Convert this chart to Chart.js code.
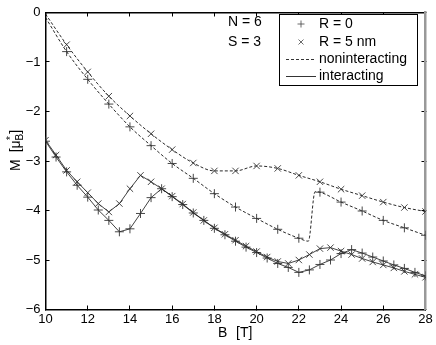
<!DOCTYPE html>
<html>
<head>
<meta charset="utf-8">
<script src="https://cdn.jsdelivr.net/npm/chart.js@4/dist/chart.umd.min.js"></script>
<style>
  body { margin: 0; background: #fff; }
  canvas { display: block; }
</style>
</head>
<body>
<canvas id="myChart" width="436" height="345"></canvas>
<script>
// magnetisation M [mu_B*] vs field B [T], N = 6, S = 3
var bNonint5 = [10, 11, 12, 13, 14, 15, 16, 17, 18, 19, 20, 21, 22, 23, 24, 25, 26, 27, 28]
var mNonint5 = [-0.03, -0.65, -1.2, -1.69, -2.09, -2.45, -2.77, -3.04, -3.2, -3.2, -3.1, -3.15, -3.29, -3.42, -3.57, -3.7, -3.83, -3.94, -4.02]

var bNonint0 = [10, 11, 12, 13, 14, 15, 16, 17, 18, 19, 20, 21, 22, 22.45, 22.77, 23, 24, 25, 26, 27, 28]
var mNonint0 = [-0.1, -0.79, -1.35, -1.85, -2.31, -2.69, -3.05, -3.35, -3.66, -3.93, -4.16, -4.38, -4.56, -4.62, -3.62, -3.63, -3.83, -4.01, -4.2, -4.35, -4.5]

var bInt = [10, 10.5, 11, 11.5, 12, 12.5, 13, 13.5, 14, 14.5, 15, 15.5, 16, 16.5, 17, 17.5, 18, 18.5, 19,
  19.5, 20, 20.5, 21, 21.5, 22, 22.5, 23, 23.5, 24, 24.5, 25, 25.5, 26, 26.5, 27, 27.5, 28]
var mInt5 = [-2.58, -2.88, -3.19, -3.42, -3.64, -3.86, -4.03, -3.86, -3.56, -3.29, -3.42, -3.56, -3.71, -3.87, -4.04, -4.2, -4.35, -4.48, -4.6,
  -4.72, -4.83, -4.94, -5.03, -5.07, -5.0, -4.89, -4.77, -4.75, -4.82, -4.89, -4.97, -5.04, -5.1, -5.16, -5.23, -5.29, -5.35]
var mInt0 = [-2.6, -2.92, -3.22, -3.49, -3.73, -3.99, -4.2, -4.43, -4.37, -4.06, -3.74, -3.56, -3.72, -3.88, -4.05, -4.2, -4.36, -4.49, -4.62,
  -4.74, -4.85, -4.96, -5.07, -5.15, -5.25, -5.2, -5.09, -5.0, -4.87, -4.79, -4.86, -4.94, -5.02, -5.1, -5.17, -5.25, -5.32]

var xTicks = [10, 12, 14, 16, 18, 20, 22, 24, 26, 28]
var yTicks = [0, -1, -2, -3, -4, -5, -6]

function pts (xs, ys) {
  return xs.map(function (x, i) { return {x: x, y: ys[i]} })
}

// dashed curves only carry a marker on whole-tesla points
function wholeMarker (ctx) {
  var x = ctx.raw && ctx.raw.x
  return (Number.isInteger(x) && x > 10) ? 4.5 : 0
}

var FONT = '"Liberation Sans", Arial, Helvetica, sans-serif'

function setTicks (list) {
  return function (s) { s.ticks = list.map(function (v) { return {value: v} }) }
}

// fixed axis box; labels may hang over the ends without moving the plot
function fixSize (w, h) {
  return function (s) {
    if (w !== null) s.width = w
    if (h !== null) s.height = h
    s.paddingTop = 0
    s.paddingBottom = 0
    s.paddingLeft = 0
    s.paddingRight = 0
  }
}

// tick marks pointing into the plot, no grid lines
var inwardGrid = {display: true, drawOnChartArea: false, drawTicks: true, tickLength: -4, color: '#000', lineWidth: 1}

var decorations = {
  id: 'decorations',
  afterDraw: function (chart) {
    var c = chart.ctx
    c.save()
    c.setLineDash([])
    c.fillStyle = '#000'
    c.font = '14px ' + FONT
    c.textBaseline = 'middle'
    c.textAlign = 'left'
    c.fillText('N = 6', 228, 22)
    c.fillText('S = 3', 228, 42)

    // legend
    var lx = 279, ly = 14, lw = 138, lh = 71
    c.fillStyle = '#fff'
    c.fillRect(lx, ly, lw, lh)
    c.strokeStyle = '#000'
    c.lineWidth = 1
    c.strokeRect(lx + 0.5, ly + 0.5, lw, lh)
    c.strokeStyle = '#444'
    c.lineWidth = 0.8
    c.beginPath()
    c.moveTo(297.5, 24); c.lineTo(304.5, 24)
    c.moveTo(301, 20.5); c.lineTo(301, 27.5)
    c.moveTo(298.5, 39.5); c.lineTo(303.5, 44.5)
    c.moveTo(303.5, 39.5); c.lineTo(298.5, 44.5)
    c.stroke()
    c.strokeStyle = '#000'
    c.setLineDash([3, 2])
    c.beginPath()
    c.moveTo(286, 59.5); c.lineTo(316, 59.5)
    c.stroke()
    c.setLineDash([])
    c.beginPath()
    c.moveTo(286, 76.5); c.lineTo(316, 76.5)
    c.stroke()
    c.fillStyle = '#000'
    c.fillText('R = 0', 319, 24)
    c.fillText('R = 5 nm', 319, 42)
    c.fillText('noninteracting', 319, 59)
    c.fillText('interacting', 319, 76)

    // x axis title, drawn in pieces to keep the wide gap
    c.fillText('B', 218, 333)
    c.fillText('[T]', 236, 333)

    // y axis title with stacked sub/superscript
    c.translate(16, 171)
    c.rotate(-Math.PI / 2)
    var x = 0
    c.font = '14px ' + FONT
    c.fillText('M', x, 0)
    x += c.measureText('M').width + 7
    c.fillText('[\u03bc', x, 0)
    x += c.measureText('[\u03bc').width
    c.font = '10px ' + FONT
    c.fillText('B', x, 4)
    c.fillText('*', x + 0.5, -5)
    x += c.measureText('B').width
    c.font = '14px ' + FONT
    c.fillText(']', x, 0)
    c.restore()
  }
}

var ctx = document.getElementById('myChart')
var myChart = new Chart(ctx, {
  type: 'line',
  data: {
    datasets: [{
      label: 'R = 5 nm, noninteracting',
      data: pts(bNonint5, mNonint5),
      borderColor: '#111',
      borderWidth: 0.9,
      borderDash: [3, 2],
      cubicInterpolationMode: 'monotone',
      pointStyle: 'crossRot',
      pointRadius: wholeMarker,
      pointBorderColor: '#333',
      pointBorderWidth: 0.9
    }, {
      label: 'R = 0, noninteracting',
      data: pts(bNonint0, mNonint0),
      borderColor: '#111',
      borderWidth: 0.9,
      borderDash: [3, 2],
      cubicInterpolationMode: 'monotone',
      pointStyle: 'cross',
      pointRadius: wholeMarker,
      pointBorderColor: '#333',
      pointBorderWidth: 0.9
    }, {
      label: 'R = 5 nm, interacting',
      data: pts(bInt, mInt5),
      borderColor: '#111',
      borderWidth: 0.8,
      tension: 0,
      pointStyle: 'crossRot',
      pointRadius: 4.5,
      pointBorderColor: '#333',
      pointBorderWidth: 0.9
    }, {
      label: 'R = 0, interacting',
      data: pts(bInt, mInt0),
      borderColor: '#111',
      borderWidth: 0.8,
      tension: 0,
      pointStyle: 'cross',
      pointRadius: 4.5,
      pointBorderColor: '#333',
      pointBorderWidth: 0.9
    }]
  },
  options: {
    responsive: false,
    animation: false,
    layout: {
      padding: {left: 0, top: 12.5, right: 10.5, bottom: 0}
    },
    plugins: {
      legend: {display: false},
      tooltip: {enabled: false}
    },
    scales: {
      x: {
        type: 'linear',
        position: 'bottom',
        min: 10,
        max: 28,
        afterFit: fixSize(null, 35.5),
        afterBuildTicks: setTicks(xTicks),
        grid: inwardGrid,
        border: {display: true, color: '#000', width: 1.5},
        ticks: {
          color: '#000',
          padding: 6,
          maxRotation: 0,
          font: {family: FONT, size: 13}
        }
      },
      xTop: {
        type: 'linear',
        position: 'top',
        min: 10,
        max: 28,
        afterFit: fixSize(null, 0),
        afterBuildTicks: setTicks(xTicks),
        grid: inwardGrid,
        border: {display: true, color: '#000', width: 1.5},
        ticks: {display: false}
      },
      y: {
        type: 'linear',
        position: 'left',
        min: -6,
        max: 0,
        afterFit: fixSize(45.5, null),
        afterBuildTicks: setTicks(yTicks),
        grid: inwardGrid,
        border: {display: true, color: '#000', width: 1.5},
        ticks: {
          color: '#000',
          padding: 9,
          font: {family: FONT, size: 13},
          callback: function (v) { return v < 0 ? '\u2212' + Math.abs(v) : String(v) }
        }
      },
      yRight: {
        type: 'linear',
        position: 'right',
        min: -6,
        max: 0,
        afterFit: fixSize(0, null),
        afterBuildTicks: setTicks(yTicks),
        grid: inwardGrid,
        border: {display: true, color: '#999', width: 2.5},
        ticks: {display: false}
      }
    }
  },
  plugins: [decorations]
})
</script>
</body>
</html>
